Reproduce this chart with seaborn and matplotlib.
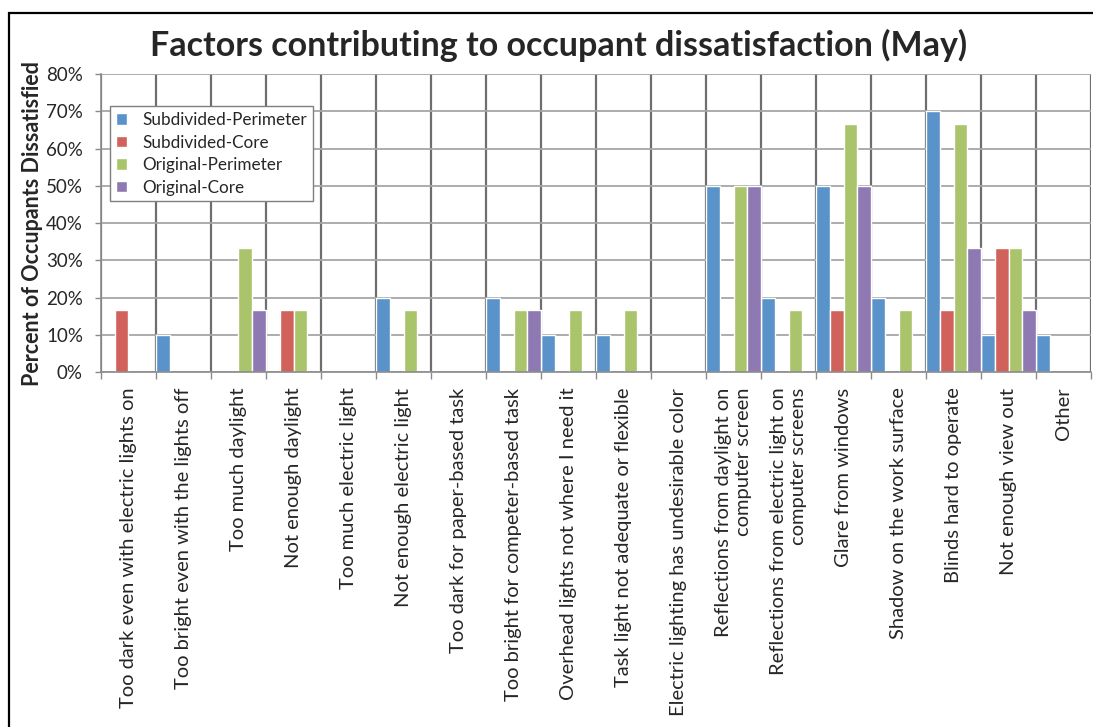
import matplotlib
matplotlib.use("Agg")
import matplotlib.pyplot as plt
import matplotlib.ticker as mticker
from matplotlib.patches import Rectangle
import numpy as np
import pandas as pd
import seaborn as sns

categories = [
    "Too dark even with electric lights on",
    "Too bright even with the lights off",
    "Too much daylight",
    "Not enough daylight",
    "Too much electric light",
    "Not enough electric light",
    "Too dark for paper-based task",
    "Too bright for competer-based task",
    "Overhead lights not where I need it",
    "Task light not adequate or flexible",
    "Electric lighting has undesirable color",
    "Reflections from daylight on\ncomputer screen",
    "Reflections from electric light on\ncomputer screens",
    "Glare from windows",
    "Shadow on the work surface",
    "Blinds hard to operate",
    "Not enough view out",
    "Other",
]

series_names = ["Subdivided-Perimeter", "Subdivided-Core", "Original-Perimeter", "Original-Core"]

subdivided_perimeter = [0, 10, 0, 0, 0, 20, 0, 20, 10, 10, 0, 50, 20, 50, 20, 70, 10, 10]
subdivided_core = [16.7, 0, 0, 16.7, 0, 0, 0, 0, 0, 0, 0, 0, 0, 16.7, 0, 16.7, 33.3, 0]
original_perimeter = [0, 0, 33.3, 16.7, 0, 16.7, 0, 16.7, 16.7, 16.7, 0, 50, 16.7, 66.7, 16.7, 66.7, 33.3, 0]
original_core = [0, 0, 16.7, 0, 0, 0, 0, 16.7, 0, 0, 0, 50, 0, 50, 0, 33.3, 16.7, 0]

palette = ["#5A93C9", "#D1615B", "#A9C46B", "#8E79B3"]

values = [subdivided_perimeter, subdivided_core, original_perimeter, original_core]
df = pd.DataFrame({
    "Category": np.repeat([categories], len(series_names), axis=0).ravel(),
    "Series": np.repeat(series_names, len(categories)),
    "Percent": np.concatenate(values) / 100.0,
})

sns.set_theme(style="white")
plt.rcParams["font.family"] = ["Lato", "DejaVu Sans"]

fig = plt.figure(figsize=(10.93, 7.27), dpi=100)
ax = fig.add_axes([0.0924, 0.488, 0.9058, 0.410])

sns.barplot(
    data=df, x="Category", y="Percent", hue="Series",
    order=categories, hue_order=series_names, palette=palette,
    width=1.0, gap=0, dodge=True, saturation=1.0, ax=ax, errorbar=None,
)

n = len(categories)
ax.set_xlim(-0.5, n - 0.5)
ax.set_ylim(0, 0.8)
ax.yaxis.set_major_locator(mticker.MultipleLocator(0.1))
ax.yaxis.set_major_formatter(mticker.PercentFormatter(1.0, decimals=0))

# category boundaries carry the vertical grid and tick marks
ax.set_xticks(np.arange(n))
ax.set_xticks(np.arange(-0.5, n, 1.0), minor=True)
ax.tick_params(axis="x", which="major", length=0, pad=11)
ax.tick_params(axis="x", which="minor", length=5, width=1, color="#8a8a8a", bottom=True)
ax.tick_params(axis="y", which="major", length=4, width=1, color="#8a8a8a", left=True,
               labelsize=13.5, pad=9)

ax.grid(axis="y", which="major", color="#a6a6a6", linewidth=1.3)
ax.grid(axis="x", which="minor", color="#6e6e6e", linewidth=1.6)
ax.grid(axis="x", which="major", visible=False)
ax.set_axisbelow(True)

ax.set_xticklabels(categories, rotation=90, ha="center", va="top",
                   multialignment="right", fontsize=14.5, linespacing=1.25)

for side in ["top", "right"]:
    ax.spines[side].set_visible(False)
for side in ["left", "bottom"]:
    ax.spines[side].set_color("#8a8a8a")
    ax.spines[side].set_linewidth(1.2)

ax.set_xlabel("")
ax.set_ylabel("Percent of Occupants Dissatisfied", fontsize=15.5, fontweight="bold", labelpad=2)

leg = ax.legend(
    loc="upper left", bbox_to_anchor=(0.009, 0.893), borderaxespad=0,
    frameon=True, fancybox=False, fontsize=12.3, handlelength=0.65, handleheight=0.65,
    handletextpad=0.9, labelspacing=0.38, borderpad=0.35,
)
leg.get_frame().set_edgecolor("#7f7f7f")
leg.get_frame().set_linewidth(1.0)
leg.get_frame().set_alpha(1.0)

fig.text(0.511, 0.938, "Factors contributing to occupant dissatisfaction (May)",
         ha="center", va="center", fontsize=24.5, fontweight="bold")

# outer chart border
fig.patches.append(Rectangle((0.0082, -0.05), 1.1, 0.982 + 0.05,
                             transform=fig.transFigure, fill=False,
                             edgecolor="black", linewidth=1.6))

fig.savefig("out.png", dpi=100)
